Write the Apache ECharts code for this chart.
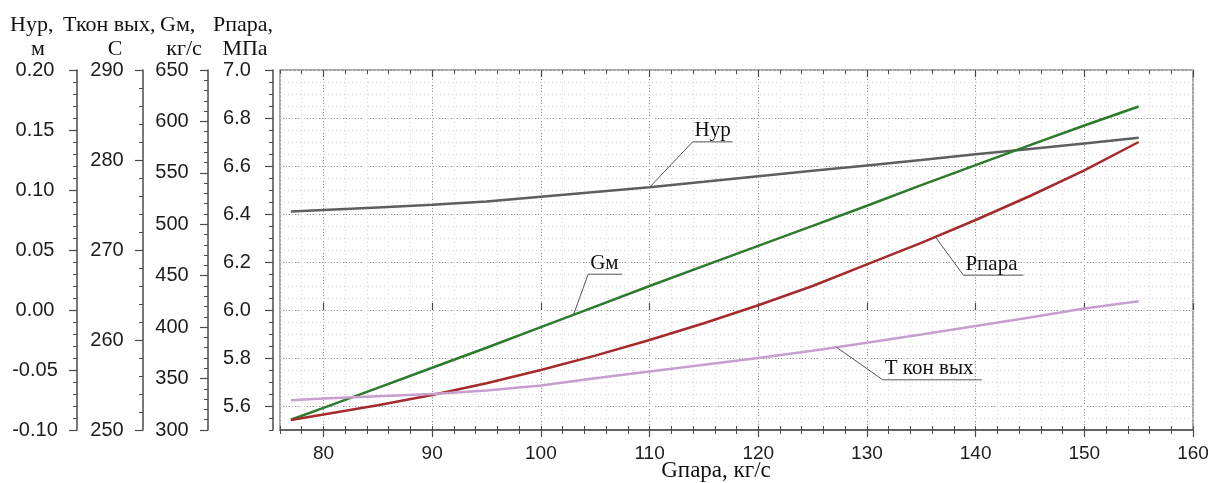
<!DOCTYPE html>
<html><head><meta charset="utf-8">
<script src="https://cdn.jsdelivr.net/npm/echarts@6/dist/echarts.min.js"></script>
<style>html,body{margin:0;padding:0;background:#fff}#c{width:1215px;height:483px}</style>
</head><body><div id="c"></div>
<script>
// ---------- data ----------
const gPara = [77, 80, 85, 90, 95, 100, 105, 110, 115, 120, 125, 130, 135, 140, 145, 150, 155];
const hUr   = [0.082, 0.0833, 0.0855, 0.0877, 0.0905, 0.0944, 0.0983, 0.1022, 0.1068, 0.1115, 0.116, 0.1205, 0.125, 0.1297, 0.1342, 0.1388, 0.1435];
const gM    = [310, 321.5, 341, 360.5, 380, 400, 420, 440, 459.5, 479, 498.5, 518, 538, 557.5, 577, 596, 614.5];
const pPara = [5.542, 5.565, 5.603, 5.646, 5.695, 5.75, 5.81, 5.875, 5.945, 6.02, 6.10, 6.19, 6.28, 6.375, 6.475, 6.582, 6.70];
const tKon  = [253.3, 253.5, 253.75, 254.0, 254.4, 254.95, 255.75, 256.5, 257.25, 258.0, 258.8, 259.7, 260.6, 261.55, 262.5, 263.5, 264.3];

const xTickLabels = [80, 90, 100, 110, 120, 130, 140, 150, 160];
const pTickLabels = [5.6, 5.8, 6.0, 6.2, 6.4, 6.6, 6.8, 7.0];
const seriesNames = ['Нур', 'Gм', 'Pпара', 'Т кон вых'];
const axisTitles  = ['Нур,', 'Ткон вых,', 'Gм,', 'Pпара,'];
const axisUnits   = ['м', 'С', 'кг/с', 'МПа'];
const xTitle      = 'Gпара, кг/с';
// annotation anchors: x value on the curve where the leader touches it
const noteAnchorX = [110, 103, 136.3, 127.2];

// ---------- styles / layout ----------
const SANS = '"Liberation Sans", Arial, sans-serif';
const SERIF = '"Liberation Serif", "Times New Roman", serif';
const AX = '#4a4a4a';
const LBL = '#1c1c1c';
const colors = ['#5e5e5e', '#2d7a2d', '#a52a2a', '#c79fcf'];
const seriesAxis = [4, 2, 0, 3];
const noteLayout = [
  {dx: 43, dy: -45.5, ulen: 40},
  {dx: 14.7, dy: -40.6, ulen: 34},
  {dx: 28, dy: 38.3, ulen: 60},
  {dx: 46.3, dy: 32.6, ulen: 99}
];
const titleX = [10, 63, 160, 213];
const unitCX = [38, 115, 184, 245];

const chart = echarts.init(document.getElementById('c'), null, {renderer: 'canvas'});

const hidden = {show: false};
function minorYAxis(offset, min, max, interval) {
  return {type: 'value', position: 'left', offset, min, max, interval,
    axisLine: hidden, axisLabel: hidden, splitLine: hidden,
    axisTick: {show: true, length: 4, lineStyle: {color: AX, width: 1}}};
}
function mainYAxis(offset, min, max, interval, margin, digits) {
  return {type: 'value', position: 'left', offset, min, max, interval,
    axisLine: {show: true, onZero: false, lineStyle: {color: AX, width: 1.5}},
    axisTick: {show: true, length: 8, lineStyle: {color: AX, width: 1.2}},
    minorTick: {show: true, splitNumber: 5, length: 4, lineStyle: {color: AX, width: 1}},
    axisLabel: {show: true, margin, align: 'center', fontSize: 20, fontFamily: SANS, color: LBL,
      formatter: v => Number(v).toFixed(digits)},
    splitLine: hidden};
}

const seriesData = [hUr, gM, pPara, tKon];

const option = {
  animation: false,
  backgroundColor: '#fff',
  grid: {left: 280, right: 22, top: 70, bottom: 53, show: true, borderColor: '#8c8c8c', borderWidth: 1.5,
    containLabel: false, outerBoundsMode: 'none'},
  xAxis: [
    { // 0 data axis
      type: 'value', position: 'bottom', min: 76, max: 160, splitNumber: 8,
      axisLine: {show: true, onZero: false, lineStyle: {color: AX, width: 1.5}},
      axisTick: {show: true, length: 7, customValues: xTickLabels, lineStyle: {color: AX, width: 1.2}},
      axisLabel: {show: true, customValues: xTickLabels, margin: 14, fontSize: 19, fontFamily: SANS, color: LBL,
        formatter: v => (v === 76 ? '' : String(v))},
      splitLine: {show: true, lineStyle: {color: '#8f8f8f', width: 1, type: [1, 2]}}
    },
    { type: 'value', position: 'bottom', min: 76, max: 160, splitNumber: 8,
      axisLine: hidden, axisLabel: hidden, splitLine: hidden,
      axisTick: {show: true, inside: true, length: 7, customValues: xTickLabels, lineStyle: {color: AX, width: 1.2}} },
    { type: 'value', position: 'bottom', min: 76, max: 160, interval: 2,
      axisLine: hidden, axisLabel: hidden,
      splitLine: {show: true, lineStyle: {color: '#d6d6d6', width: 1, type: [1, 3]}},
      axisTick: {show: true, length: 4, lineStyle: {color: AX, width: 1}} },
    { type: 'value', position: 'bottom', min: 76, max: 160, interval: 2,
      axisLine: hidden, axisLabel: hidden, splitLine: hidden,
      axisTick: {show: true, inside: true, length: 4, lineStyle: {color: AX, width: 1}} },
    { type: 'value', position: 'top', min: 76, max: 160, splitNumber: 8,
      axisLine: hidden, axisLabel: hidden, splitLine: hidden,
      axisTick: {show: true, inside: true, length: 7, customValues: xTickLabels, lineStyle: {color: AX, width: 1.2}} },
    { type: 'value', position: 'top', min: 76, max: 160, interval: 2,
      axisLine: hidden, axisLabel: hidden, splitLine: hidden,
      axisTick: {show: true, inside: true, length: 4, lineStyle: {color: AX, width: 1}} }
  ],
  yAxis: [
    { // 0 Pпара
      type: 'value', position: 'left', offset: 7, min: 5.5, max: 7.0, splitNumber: 7,
      axisLine: {show: true, onZero: false, lineStyle: {color: AX, width: 1.5}},
      axisTick: {show: true, length: 8, customValues: pTickLabels, lineStyle: {color: AX, width: 1.2}},
      axisLabel: {show: true, customValues: pTickLabels, margin: 36, align: 'center', fontSize: 20, fontFamily: SANS, color: LBL,
        formatter: v => (Math.abs(v - 5.5) < 1e-9 ? '' : Number(v).toFixed(1))},
      splitLine: {show: true, lineStyle: {color: '#8f8f8f', width: 1, type: [1, 2]}}
    },
    Object.assign(minorYAxis(7, 5.5, 7.0, 0.05), {splitLine: {show: true, lineStyle: {color: '#d6d6d6', width: 1, type: [1, 3]}}}),
    mainYAxis(72, 300, 650, 50, 36, 0),     // 2 Gм
    mainYAxis(137, 250, 290, 10, 36, 0),    // 3 Ткон вых
    mainYAxis(203, -0.10, 0.20, 0.05, 42, 2) // 4 Нур
  ],
  series: seriesNames.map((name, k) => ({
    name, type: 'line', xAxisIndex: 0, yAxisIndex: seriesAxis[k],
    data: gPara.map((x, i) => [x, seriesData[k][i]]),
    symbol: 'none', showSymbol: false, smooth: false, clip: false,
    lineStyle: {color: colors[k], width: 2.5}, itemStyle: {color: colors[k]},
    emphasis: {disabled: true}, z: 3 + k
  }))
};
chart.setOption(option);

// ---------- header text, x title, annotations ----------
function interp(xs, ys, x) {
  for (let i = 1; i < xs.length; i++) {
    if (x <= xs[i]) {
      const t = (x - xs[i - 1]) / (xs[i] - xs[i - 1]);
      return ys[i - 1] + t * (ys[i] - ys[i - 1]);
    }
  }
  return ys[ys.length - 1];
}
const g = [];
axisTitles.forEach((t, i) => g.push({type: 'text', x: titleX[i], y: 25, silent: true,
  style: {text: t, font: '22px ' + SERIF, fill: '#111', textAlign: 'left', textVerticalAlign: 'middle'}}));
axisUnits.forEach((t, i) => g.push({type: 'text', x: unitCX[i], y: 49, silent: true,
  style: {text: t, font: '22px ' + SERIF, fill: '#111', textAlign: 'center', textVerticalAlign: 'middle'}}));
g.push({type: 'text', x: 716, y: 471, silent: true,
  style: {text: xTitle, font: '23px ' + SERIF, fill: '#111', textAlign: 'center', textVerticalAlign: 'middle'}});
seriesNames.forEach((name, k) => {
  const xv = noteAnchorX[k];
  const yv = interp(gPara, seriesData[k], xv);
  const p = chart.convertToPixel({xAxisIndex: 0, yAxisIndex: seriesAxis[k]}, [xv, yv]);
  const L = noteLayout[k];
  const ex = p[0] + L.dx, ey = p[1] + L.dy;
  g.push({type: 'polyline', silent: true, z: 10,
    shape: {points: [[p[0], p[1]], [ex, ey], [ex + L.ulen, ey]]},
    style: {stroke: '#555', lineWidth: 1, fill: null}});
  g.push({type: 'text', x: ex + 2, y: ey - 0.5, silent: true, z: 10,
    style: {text: name, font: '21px ' + SERIF, fill: '#111', textAlign: 'left', textVerticalAlign: 'bottom'}});
});
chart.setOption({graphic: g});
</script>
</body></html>
